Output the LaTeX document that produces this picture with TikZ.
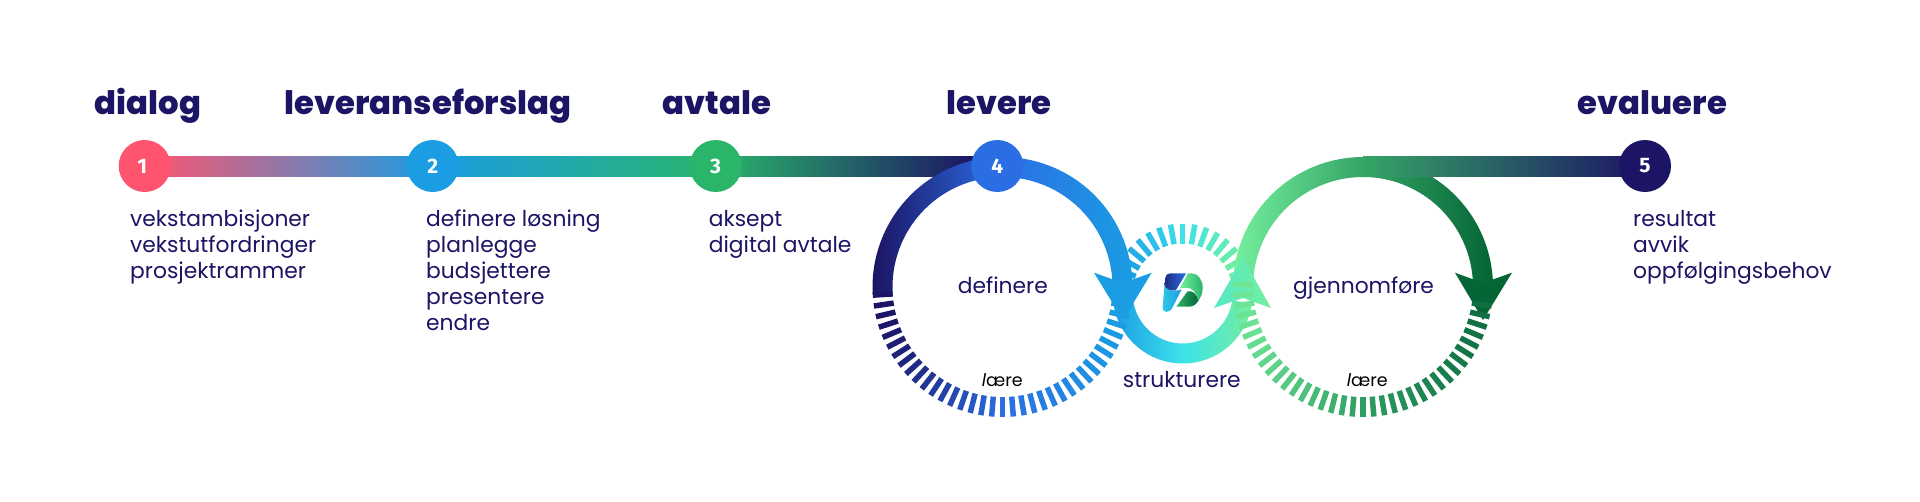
\documentclass[tikz,border=0pt]{standalone}
\usepackage{fontspec}
\usetikzlibrary{calc}
\setmainfont{Poppins}
\newfontfamily\headfont{Poppins ExtraBold}
\newfontfamily\numfont{Fira Sans}
\definecolor{navy}{HTML}{1C1464}
\definecolor{cone}{HTML}{FF5470}
\definecolor{ctwo}{HTML}{1A9DE3}
\definecolor{cthree}{HTML}{2AB56B}
\definecolor{cfour}{HTML}{2B6EE4}
\definecolor{aqua}{HTML}{3DE2EA}
\definecolor{mint}{HTML}{74EF9E}
\definecolor{midgreen}{HTML}{35A566}
\definecolor{darkgreen}{HTML}{056535}
\definecolor{dashmint}{HTML}{6EE495}
\definecolor{dashgreen}{HTML}{2E9E62}
\definecolor{dashdark}{HTML}{0F6F43}
\tikzset{
  numdot/.style={circle,minimum size=52pt,inner sep=0pt,text=white,font=\numfont\bfseries\fontsize{21}{21}\selectfont},
  headtext/.style={anchor=base west,inner sep=0pt,text=navy,font=\headfont\fontsize{32.3}{32.3}\selectfont},
  bodytext/.style={anchor=base west,inner sep=0pt,text=navy,font=\fontsize{21.8}{21.8}\selectfont},
  learntext/.style={anchor=base west,inner sep=0pt,text=black,font=\fontsize{17.5}{17.5}\selectfont}
}
\newcommand{\ringdash}[8]{%
  \pgfmathsetmacro\cosv{cos(#5)}%
  \pgfmathsetmacro\mixp{\cosv<0 ? 100*(1+\cosv) : 100*\cosv}%
  \pgfmathparse{\cosv<0 ? 1 : 0}%
  \ifnum\pgfmathresult=1 \colorlet{dashcol}{#7!\mixp!#6}\else\colorlet{dashcol}{#8!\mixp!#7}\fi
  \draw[line width=5.5pt,dashcol,shift={(#1,#2)},rotate=-#5] (#3,0) -- (#4,0);%
}
\begin{document}
\begin{tikzpicture}[x=1pt,y=-1pt]
\useasboundingbox (0,0) rectangle (1920,501);
\fill[white] (0,0) rectangle (1920,501);
\coordinate (n1) at (144.7,166);
\coordinate (n2) at (432.7,166);
\coordinate (n3) at (715.7,166);
\coordinate (n4) at (997.3,166);
\coordinate (n5) at (1645,166);
\coordinate (gtop) at (1363,166);
\shade[left color=cone,right color=ctwo] ($(n1)+(0,-10)$) rectangle ($(n2)+(0,10)$);
\shade[left color=ctwo,right color=cthree] ($(n2)+(0,-10)$) rectangle ($(n3)+(0,10)$);
\shade[left color=cthree,right color=navy] ($(n3)+(0,-10)$) rectangle ($(n4)+(-22,10)$);
\foreach \k in {-7,...,7}{
  \pgfmathsetmacro\ang{270+10*\k}
  \ringdash{1182.7}{293.5}{50}{70}{\ang}{ctwo}{aqua}{mint}
}
\shade[left color=ctwo,right color=mint,middle color=aqua]
  plot[domain=188:352,samples=70] ({1182.7+70*cos(\x)},{293.5-70*sin(\x)})
  -- plot[domain=352:188,samples=70] ({1182.7+50*cos(\x)},{293.5-50*sin(\x)}) -- cycle;
\shade[left color=navy,right color=ctwo,middle color=cfour]
  plot[domain=177:361,samples=90] ({1002.5+130*cos(\x)},{287+130*sin(\x)})
  -- plot[domain=361:177,samples=90] ({1002.5+110*cos(\x)},{287+110*sin(\x)}) -- cycle;
\fill[ctwo] (1094,272.7) -- (1123,283) -- (1151.7,272.7) -- (1123,320) -- cycle;
\shade[left color=mint,right color=darkgreen,middle color=midgreen]
  plot[domain=176:361,samples=90] ({1363+130*cos(\x)},{287+130*sin(\x)})
  -- plot[domain=361:176,samples=90] ({1363+110*cos(\x)},{287+110*sin(\x)}) -- cycle;
\shade[left color=midgreen,right color=navy] ($(gtop)+(0,-10)$) rectangle ($(n5)+(0,10)$);
\fill[darkgreen] (1455,272.7) -- (1483,283) -- (1512,272.7) -- (1483,320) -- cycle;
\shade[left color=aqua!55!mint,right color=mint] (1214,308) -- (1243,298) -- (1271,308) -- (1243,258) -- cycle;
\foreach \k in {-18,...,18}{
  \pgfmathsetmacro\ang{90+4.8*\k}
  \ringdash{1002.5}{287}{110}{130}{\ang}{navy}{cfour}{ctwo}
}
\foreach \k in {-17,...,19}{
  \pgfmathsetmacro\ang{90+4.8*\k}
  \ringdash{1363}{287}{110}{130}{\ang}{dashmint}{dashgreen}{dashdark}
}
% logo
\begin{scope}[shift={(1155.4,265)},x=0.292pt,y=-0.3333pt]
  \shade[left color=aqua!60!ctwo,right color=ctwo] (31,58) .. controls (38,76) and (60,82) .. (90,73) -- (60,125) .. controls (50,146) and (24,146) .. (25,125) -- cycle;
  \shade[left color=navy!75!cfour,right color=cfour] (31,60) -- (34,38) .. controls (36,30) and (42,25) .. (50,25) -- (105,25) -- (70,76) .. controls (50,78) and (36,72) .. (31,60) -- cycle;
  \shade[left color=mint,right color=cthree] (84,70) -- (111,25) -- (125,25) .. controls (146,25) and (162,45) .. (162,68) .. controls (162,84) and (156,97) .. (147,107) .. controls (142,85) and (125,66) .. (104,68) -- cycle;
  \shade[left color=cthree,right color=darkgreen] (72,125) -- (110,79) .. controls (128,74) and (143,90) .. (147,107) .. controls (140,118) and (130,125) .. (115,125) -- cycle;
\end{scope}
\node[numdot,fill=cone] (d1) at (n1) {\hspace*{-5pt}1};
\node[numdot,fill=ctwo] (d2) at (n2) {2};
\node[numdot,fill=cthree] (d3) at (n3) {3};
\node[numdot,fill=cfour] (d4) at (n4) {4};
\node[numdot,fill=navy] (d5) at (n5) {5};
\node[headtext] (h1) at (94.7,114) {dialog};
\node[headtext] (h2) at (284.5,114) {leveranseforslag};
\node[headtext] (h3) at (662.6,114) {avtale};
\node[headtext] (h4) at (946.5,114) {levere};
\node[headtext] (h5) at (1577.7,114) {evaluere};
\node[bodytext] (a1) at (130,226) {vekstambisjoner};
\node[bodytext] (a2) at (130,252) {vekstutfordringer};
\node[bodytext] (a3) at (130,278) {prosjektrammer};
\node[bodytext] (b1) at (426,226) {definere løsning};
\node[bodytext] (b2) at (426,252) {planlegge};
\node[bodytext] (b3) at (426,278) {budsjettere};
\node[bodytext] (b4) at (426,304) {presentere};
\node[bodytext] (b5) at (426,330) {endre};
\node[bodytext] (c1) at (708.6,226) {aksept};
\node[bodytext] (c2) at (708.6,252) {digital avtale};
\node[bodytext] (e1) at (1633,226) {resultat};
\node[bodytext] (e2) at (1633,252) {avvik};
\node[bodytext] (e3) at (1633,278) {oppfølgingsbehov};
\node[bodytext] (r1) at (957.7,293) {definere};
\node[bodytext] (r2) at (1293,293) {gjennomføre};
\node[bodytext] (r3) at (1122.7,387) {strukturere};
\node[learntext] (l1) at (981.7,386) {{\itshape l}ære};
\node[learntext] (l2) at (1346.7,386) {{\itshape l}ære};
\end{tikzpicture}
\end{document}
